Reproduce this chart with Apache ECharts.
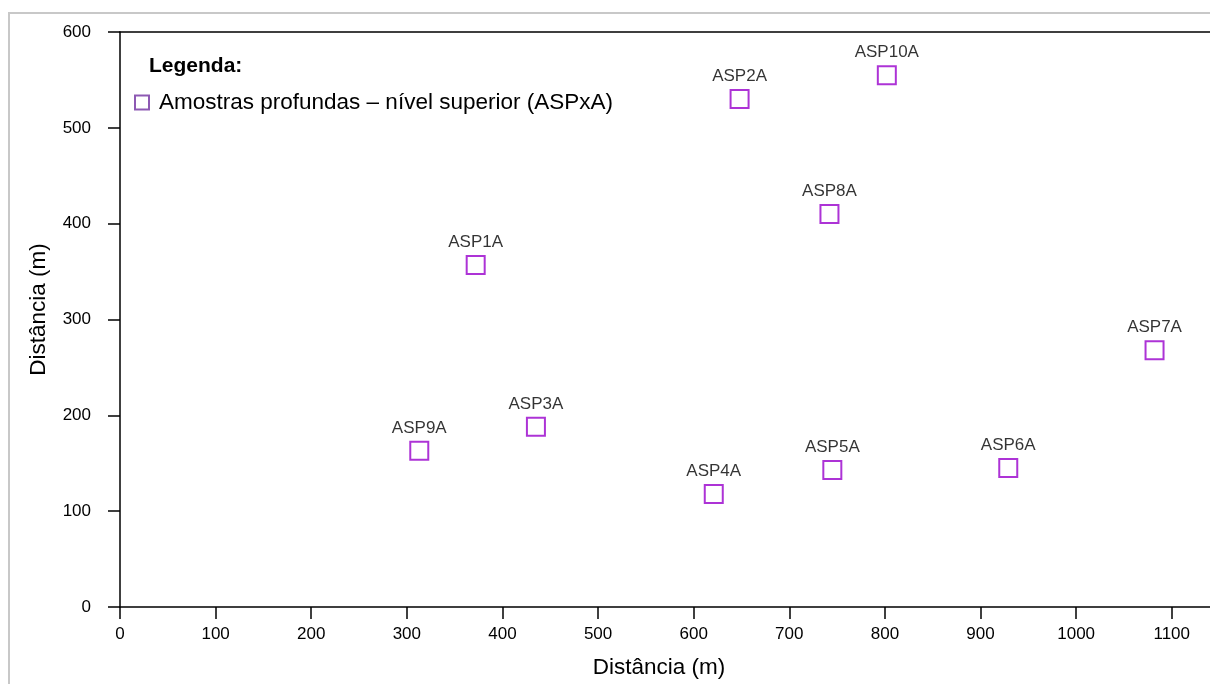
<!DOCTYPE html>
<html>
<head>
<meta charset="utf-8">
<script src="https://cdn.jsdelivr.net/npm/echarts@6/dist/echarts.min.js"></script>
<style>html,body{margin:0;padding:0;background:#fff;}#c{width:1210px;height:684px;}</style>
</head>
<body>
<div id="c"></div>
<script>
const names = ['ASP1A','ASP2A','ASP3A','ASP4A','ASP5A','ASP6A','ASP7A','ASP8A','ASP9A','ASP10A'];
const xValues = [372, 648, 435, 621, 745, 929, 1082, 742, 313, 802];
const yValues = [357, 530, 188, 118, 143, 145, 268, 410, 163, 555];
const xTicks = [0,100,200,300,400,500,600,700,800,900,1000,1100];
const yTicks = [0,100,200,300,400,500,600];
const seriesName = 'Amostras profundas – nível superior (ASPxA)';

const F = '"Liberation Sans", Arial, sans-serif';
const chart = echarts.init(document.getElementById('c'), null, {renderer:'canvas'});
chart.setOption({
  backgroundColor:'#fff',
  animation:false,
  title:{text:'Legenda:', left:144, top:51, textStyle:{fontFamily:F, fontSize:21, fontWeight:'bold', color:'#000'}},
  legend:{
    left:129, top:86, icon:'rect', itemWidth:14, itemHeight:14, itemGap:6,
    itemStyle:{color:'rgba(0,0,0,0)', borderColor:'#7030a0', borderWidth:2},
    textStyle:{fontFamily:F, fontSize:22.5, color:'#000', padding:[0,0,0,5]},
    data:[seriesName]
  },
  grid:{left:120, top:32, width:1091, height:577.3, show:false},
  xAxis:[{
    type:'value', min:0, max:1140, interval:100, position:'bottom',
    axisLine:{show:true, onZero:false, lineStyle:{color:'#000', width:1.5}},
    axisTick:{show:true, inside:false, length:12, lineStyle:{color:'#000', width:1.5}},
    axisLabel:{fontFamily:F, fontSize:17, color:'#000', margin:19, showMaxLabel:false,
      formatter:v=> xTicks.includes(v) ? String(v) : ''},
    splitLine:{show:false},
    name:'Distância (m)', nameLocation:'middle', nameGap:49,
    nameTextStyle:{fontFamily:F, fontSize:22.5, color:'#000', padding:[0,12,0,0]}
  },{
    type:'value', min:0, max:1140, interval:100, position:'top',
    axisLine:{show:true, onZero:false, lineStyle:{color:'#000', width:1.5}},
    axisTick:{show:false}, axisLabel:{show:false}, splitLine:{show:false}
  }],
  yAxis:{
    type:'value', min:0, max:600, interval:100,
    axisLine:{show:true, onZero:false, lineStyle:{color:'#000', width:1.5}},
    axisTick:{show:true, inside:false, length:12, lineStyle:{color:'#000', width:1.5}},
    axisLabel:{fontFamily:F, fontSize:17, color:'#000', margin:29,
      formatter:v=> yTicks.includes(v) ? String(v) : ''},
    splitLine:{show:false},
    name:'Distância (m)', nameLocation:'middle', nameGap:70,
    nameTextStyle:{fontFamily:F, fontSize:22.5, color:'#000', padding:[0,0,0,20]}
  },
  graphic:[{type:'rect', shape:{x:9,y:13,width:1400,height:900}, style:{fill:'none', stroke:'#c8c8c8', lineWidth:2}, silent:true, z:-10}],
  series:[{
    name:seriesName, type:'scatter', xAxisIndex:0, yAxisIndex:0,
    symbol:'rect', symbolSize:18,
    itemStyle:{color:'rgba(0,0,0,0)', borderColor:'#9900cc', borderWidth:2},
    label:{show:true, position:'top', distance:4, formatter:p=>p.data[2],
      fontFamily:F, fontSize:17, color:'#000'},
    data: names.map((n,i)=>[xValues[i], yValues[i], n])
  }]
});
</script>
</body>
</html>
